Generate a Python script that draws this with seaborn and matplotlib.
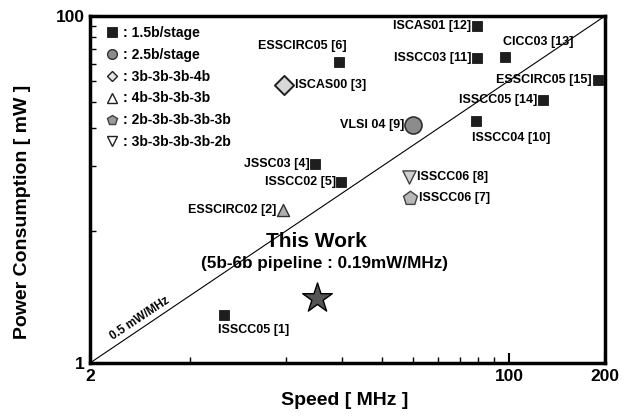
import numpy as np
import pandas as pd
import matplotlib
matplotlib.use("Agg")
import matplotlib.pyplot as plt
import seaborn as sns
from matplotlib.ticker import FixedLocator, FixedFormatter, NullFormatter
from matplotlib.lines import Line2D

# ---------------- data ----------------
names = ["ISSCC05 [1]", "ESSCIRC02 [2]", "ISCAS00 [3]", "JSSC03 [4]", "ISSCC02 [5]",
         "ESSCIRC05 [6]", "ISSCC06 [7]", "ISSCC06 [8]", "VLSI 04 [9]", "ISSCC04 [10]",
         "ISSCC03 [11]", "ISCAS01 [12]", "CICC03 [13]", "ISSCC05 [14]", "ESSCIRC05 [15]"]
speed = [12.8, 19.6, 19.7, 24.6, 29.7, 29.3, 49.0, 48.6, 50.0, 78.8, 79.4, 79.4, 97.2, 127.8, 190.0]
power = [4.07, 12.5, 47.7, 20.5, 16.9, 61.1, 14.2, 17.8, 31.1, 32.5, 63.8, 89.8, 64.5, 40.7, 50.4]
arch = ["1.5b/stage", "4b-3b-3b-3b", "3b-3b-3b-4b", "1.5b/stage", "1.5b/stage",
        "1.5b/stage", "2b-3b-3b-3b-3b", "3b-3b-3b-3b-2b", "2.5b/stage", "1.5b/stage",
        "1.5b/stage", "1.5b/stage", "1.5b/stage", "1.5b/stage", "1.5b/stage"]
arch_order = ["1.5b/stage", "2.5b/stage", "3b-3b-3b-4b", "4b-3b-3b-3b",
              "2b-3b-3b-3b-3b", "3b-3b-3b-3b-2b"]
this_speed = [25.0]
this_power = [4.88]
fom_line = 0.5          # mW/MHz
x_range = [4.86, 200.0]
y_range = [2.43, 100.0]
x_tick_labels = ["2", "100", "200"]
y_tick_labels = ["1", "100"]

df = pd.DataFrame({"name": names, "speed": speed, "power": power, "arch": arch})

# ---------------- style ----------------
sns.set_style("ticks")
plt.rcParams["font.family"] = ["Liberation Sans", "DejaVu Sans"]
plt.rcParams["font.weight"] = "bold"
for k in ["text.color", "axes.labelcolor", "xtick.color", "ytick.color", "axes.edgecolor"]:
    plt.rcParams[k] = "black"

fig = plt.figure(figsize=(6.3, 4.16), dpi=100)
ax = fig.add_axes([90 / 630, 1 - 363 / 416, 515 / 630, 347 / 416])

pt_style = {
    "1.5b/stage": dict(marker="s", s=60, color="#1e1e1e", edgecolor="#000000", linewidth=0.5),
    "2.5b/stage": dict(marker="o", s=150, color="#8c8c8c", edgecolor="#303030", linewidth=1.2),
    "3b-3b-3b-4b": dict(marker="D", s=95, color="#d8d8d8", edgecolor="#202020", linewidth=1.4),
    "4b-3b-3b-3b": dict(marker="^", s=75, color="#b0b0b0", edgecolor="#303030", linewidth=1.0),
    "2b-3b-3b-3b-3b": dict(marker="p", s=110, color="#b8b8b8", edgecolor="#404040", linewidth=1.0),
    "3b-3b-3b-3b-2b": dict(marker="v", s=90, color="#cfcfcf", edgecolor="#404040", linewidth=1.0),
}
leg_style = {
    "1.5b/stage": dict(marker="s", ms=6.5, mfc="#1e1e1e", mec="#000000", mew=0.5),
    "2.5b/stage": dict(marker="o", ms=7, mfc="#8c8c8c", mec="#303030", mew=1.0),
    "3b-3b-3b-4b": dict(marker="D", ms=5.5, mfc="#e6e6e6", mec="#202020", mew=1.0),
    "4b-3b-3b-3b": dict(marker="^", ms=6.5, mfc="white", mec="#202020", mew=1.0),
    "2b-3b-3b-3b-3b": dict(marker="p", ms=7, mfc="#9a9a9a", mec="#404040", mew=1.0),
    "3b-3b-3b-3b-2b": dict(marker="v", ms=6.5, mfc="white", mec="#202020", mew=1.0),
}

# 0.5 mW/MHz line
xl = np.array(x_range)
sns.lineplot(x=xl, y=fom_line * xl, ax=ax, color="black", linewidth=0.8)

for a in arch_order:
    sub = df[df["arch"] == a]
    if len(sub):
        st = pt_style[a]
        sns.scatterplot(data=sub, x="speed", y="power", ax=ax, marker=st["marker"],
                        s=st["s"], color=st["color"], edgecolor=st["edgecolor"],
                        linewidth=st["linewidth"], zorder=3, legend=False)

# this work
sns.scatterplot(x=this_speed, y=this_power, ax=ax, marker="*", s=500,
                color="#555555", edgecolor="black", linewidth=1.0, zorder=3, legend=False)

# point labels: (dx, dy) in pixels, ha
label_pos = {
    "ISSCC05 [1]": (-6, -15, "left"),
    "ESSCIRC02 [2]": (-7, 0, "right"),
    "ISCAS00 [3]": (11, 0, "left"),
    "JSSC03 [4]": (-5, 0, "right"),
    "ISSCC02 [5]": (-5, 0, "right"),
    "ESSCIRC05 [6]": (-37, 16, "center"),
    "ISSCC06 [7]": (9, 0, "left"),
    "ISSCC06 [8]": (8, 0, "left"),
    "VLSI 04 [9]": (-9, 0, "right"),
    "ISSCC04 [10]": (-4, -17, "left"),
    "ISSCC03 [11]": (-6, 0, "right"),
    "ISCAS01 [12]": (-6, 0, "right"),
    "CICC03 [13]": (-2, 15, "left"),
    "ISSCC05 [14]": (-6, 0, "right"),
    "ESSCIRC05 [15]": (-6, 0, "right"),
}
for n, xv, yv in zip(names, speed, power):
    dx, dy, ha = label_pos[n]
    ax.annotate(n, (xv, yv), xytext=(dx, dy), textcoords="offset pixels",
                ha=ha, va="center", fontsize=9, fontweight="bold")

ax.annotate("This Work", (this_speed[0], this_power[0]), xytext=(-1, 56),
            textcoords="offset pixels", ha="center", va="center",
            fontsize=15, fontweight="bold")
ax.annotate("(5b-6b pipeline : 0.19mW/MHz)", (this_speed[0], this_power[0]),
            xytext=(8, 34), textcoords="offset pixels", ha="center", va="center",
            fontsize=12.3, fontweight="bold")

# line label
ax.annotate("0.5 mW/MHz", (7.1, fom_line * 7.1), xytext=(-3, 9), textcoords="offset pixels",
            ha="center", va="center", rotation=33.6, rotation_mode="anchor",
            fontsize=8.5, fontweight="bold")

# axes
ax.set_xscale("log")
ax.set_yscale("log")
ax.set_xlim(*x_range)
ax.set_ylim(*y_range)

ax.xaxis.set_major_locator(FixedLocator([x_range[0], 100, 200]))
ax.xaxis.set_major_formatter(FixedFormatter(x_tick_labels))
ax.xaxis.set_minor_locator(FixedLocator([10, 20, 30, 40, 50, 60, 70, 80, 90]))
ax.xaxis.set_minor_formatter(NullFormatter())
ax.yaxis.set_major_locator(FixedLocator([y_range[0], 100]))
ax.yaxis.set_major_formatter(FixedFormatter(y_tick_labels))
ax.yaxis.set_minor_locator(FixedLocator([10, 20, 30, 40, 50, 60, 70, 80, 90]))
ax.yaxis.set_minor_formatter(NullFormatter())

ax.tick_params(which="major", direction="in", length=7, width=1.5, labelsize=12.5, pad=4)
ax.tick_params(which="minor", direction="in", length=4, width=1.0)
for lab in ax.get_xticklabels() + ax.get_yticklabels():
    lab.set_fontweight("bold")

for sp in ax.spines.values():
    sp.set_visible(True)
    sp.set_linewidth(2.5)
    sp.set_color("black")

ax.set_xlabel("Speed [ MHz ]", fontsize=14, fontweight="bold")
ax.set_ylabel("Power Consumption [ mW ]", fontsize=14, fontweight="bold")
ax.xaxis.set_label_coords(0.495, -0.083)
ax.yaxis.set_label_coords(-0.115, 0.435)

# legend
handles = [Line2D([], [], linestyle="none", color="black", **leg_style[a]) for a in arch_order]
labels = [": " + a for a in arch_order]
leg = ax.legend(handles, labels, loc="upper left", bbox_to_anchor=(0.0126, 1.0),
                frameon=False, handlelength=0.8, handletextpad=0.4,
                labelspacing=0.57, borderpad=0.2, borderaxespad=0.5,
                prop={"weight": "bold", "size": 10})

fig.savefig("out.png", dpi=100)
